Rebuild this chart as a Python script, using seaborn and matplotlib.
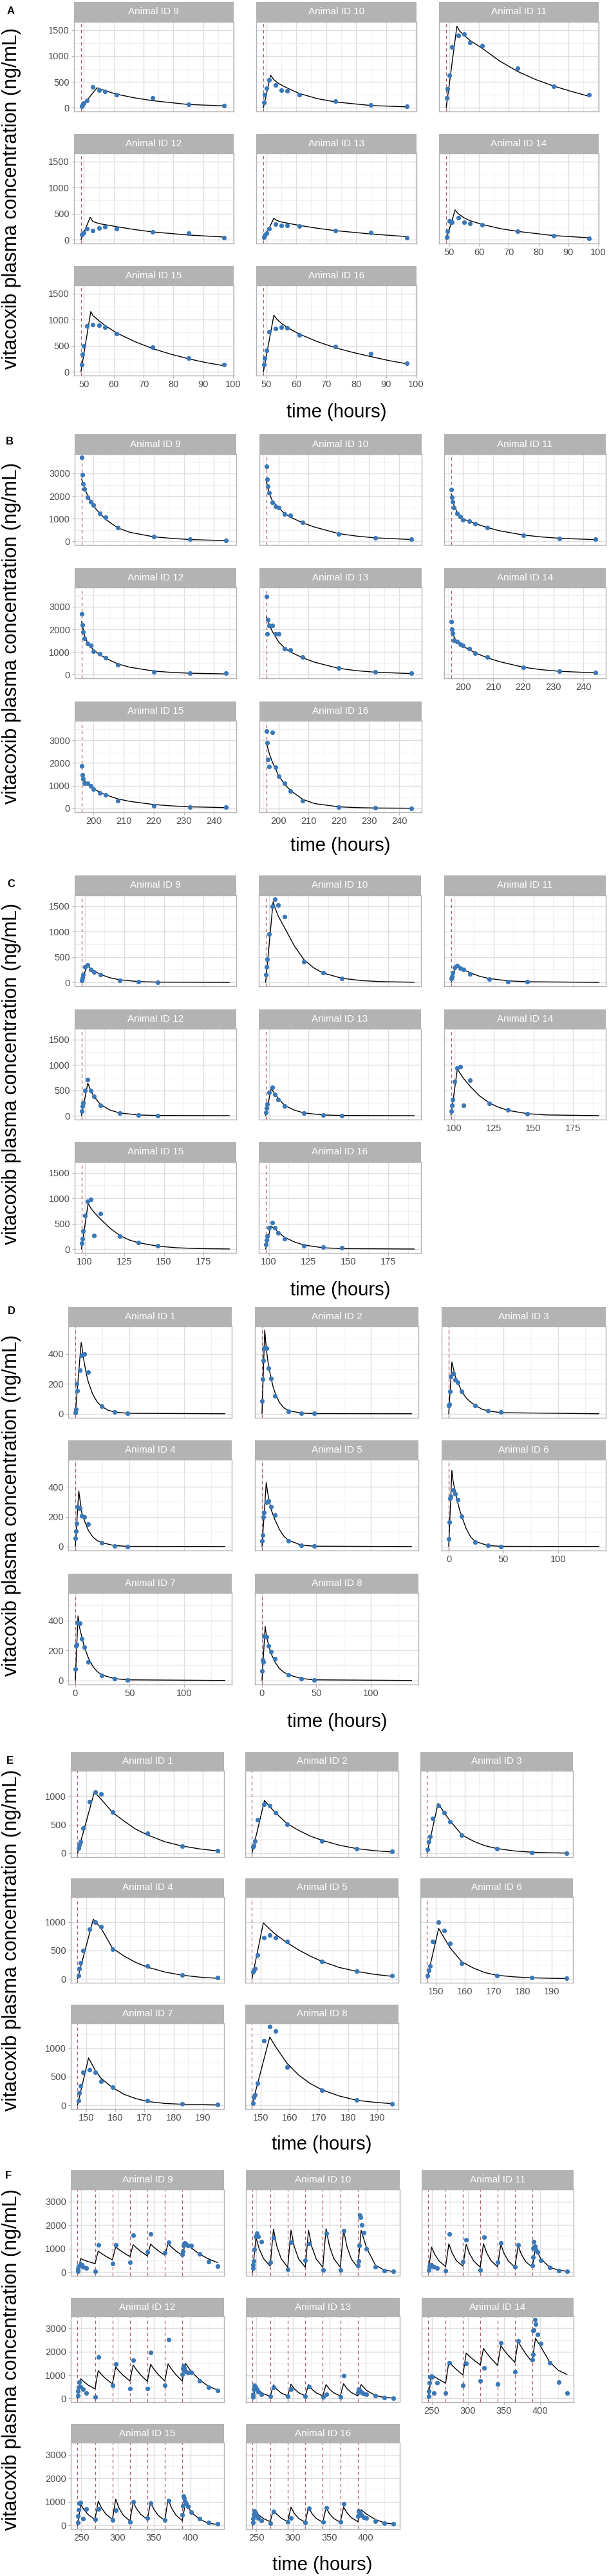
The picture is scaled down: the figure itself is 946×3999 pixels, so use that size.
import numpy as np
import pandas as pd
import matplotlib
matplotlib.use("Agg")
import matplotlib.pyplot as plt
import seaborn as sns
from matplotlib.ticker import MultipleLocator

nan = float("nan")

# ======================= DATA =======================
# ---------- Panel A ----------
A_dose = [49]
A_ids = [9, 10, 11, 12, 13, 14, 15, 16]
A_obs_t = [49.25, 49.5, 50, 51, 53, 55, 57, 61, 73, 85, 97]
a9_obs = [25, 55, 90, 145, 405, 340, 310, 255, 190, 66, 41]
a10_obs = [103, 256, 372, 533, 438, 335, 326, 256, 132, 50, 25]
a11_obs = [190, 364, 624, 1174, 1393, 1417, 1260, 1194, 764, 413, 248]
a12_obs = [100, 111, 143, 213, 176, 221, 246, 213, 152, 127, 37]
a13_obs = [49, 90, 123, 213, 303, 275, 275, 258, 176, 139, 41]
a14_obs = [57, 164, 357, 336, 418, 336, 316, 283, 160, 78, 29]
a15_obs = [136, 330, 491, 879, 900, 895, 854, 726, 475, 264, 140]
a16_obs = [136, 260, 409, 772, 825, 854, 838, 710, 487, 343, 161]
a9_fit_t = [49, 54.4, 57, 61, 67, 73, 85, 97]
a9_fit = [0, 385, 330, 260, 190, 136, 62, 36]
a10_fit_t = [49, 51.4, 52.5, 54, 57, 61, 67, 73, 85, 97]
a10_fit = [0, 625, 540, 470, 380, 275, 175, 112, 42, 17]
a11_fit_t = [49, 52.6, 53.5, 55, 57, 61, 67, 73, 79, 85, 91, 97]
a11_fit = [0, 1575, 1480, 1400, 1300, 1150, 900, 700, 545, 420, 315, 220]
a12_fit_t = [49, 52.1, 53, 55, 61, 67, 73, 85, 97]
a12_fit = [0, 430, 350, 310, 250, 195, 150, 90, 52]
a13_fit_t = [49, 52.5, 53.5, 55, 61, 67, 73, 85, 97]
a13_fit = [0, 410, 370, 340, 275, 220, 175, 110, 60]
a14_fit_t = [49, 52, 53, 55, 57, 61, 67, 73, 85, 97]
a14_fit = [0, 572, 500, 420, 365, 295, 215, 160, 80, 37]
a15_fit_t = [49, 52.3, 53, 55, 57, 61, 67, 73, 79, 85, 91, 97]
a15_fit = [0, 1155, 1080, 980, 890, 745, 580, 445, 340, 250, 175, 115]
a16_fit_t = [49, 52.5, 53.5, 55, 57, 61, 67, 73, 79, 85, 91, 97]
a16_fit = [0, 1085, 1010, 930, 850, 723, 580, 462, 370, 290, 215, 153]

# ---------- Panel B ----------
B_dose = [196]
B_ids = [9, 10, 11, 12, 13, 14, 15, 16]
B_obs_t = [196.083, 196.25, 196.5, 197, 198, 199, 200, 202, 204, 208, 220, 232, 244]
b9_obs = [3714, 2933, 2552, 2305, 1943, 1743, 1600, 1219, 1048, 590, 190, 76, 19]
b10_obs = [3314, 2743, 2429, 2152, 1714, 1543, 1495, 1210, 1143, 819, 324, 152, 76]
b11_obs = [2286, 1943, 1733, 1476, 1219, 1095, 952, 895, 781, 610, 267, 124, 76]
b12_obs = [2686, 2190, 1886, 1600, 1380, 1300, 1038, 924, 733, 419, 114, 67, 48]
b13_obs = [3457, 1810, 2429, 2171, 2171, 1810, 1810, 1133, 1086, 762, 276, 114, 57]
b14_obs = [2333, 2000, 1829, 1524, 1448, 1352, 1276, 1143, 943, 762, 314, 152, 95]
b15_obs = [1861, 1472, 1311, 1092, 1092, 997, 855, 693, 598, 342, 123, 66, 57]
b16_obs = [3400, 2906, 2165, 1852, 3352, 1804, 1425, 1102, 760, 342, 57, 19, 10]
B_fit_t = [196.0, 197, 198, 200, 202, 204, 208, 212, 220, 226, 232, 244]
b9_fit = [2750, 2350, 2020, 1550, 1230, 960, 590, 390, 190, 120, 70, 22]
b10_fit = [2650, 2100, 1780, 1480, 1230, 1060, 810, 620, 330, 220, 145, 70]
b11_fit = [2100, 1550, 1290, 990, 870, 780, 600, 460, 270, 185, 125, 65]
b12_fit = [2350, 1700, 1400, 1080, 880, 720, 470, 320, 150, 90, 55, 25]
b13_fit = [2550, 2200, 1900, 1450, 1180, 990, 740, 540, 270, 165, 100, 38]
b14_fit = [2100, 1650, 1450, 1250, 1100, 960, 740, 570, 320, 210, 140, 70]
b15_fit = [1450, 1220, 1080, 870, 710, 600, 420, 310, 170, 110, 70, 35]
b16_fit = [2880, 2400, 2030, 1450, 1075, 790, 400, 210, 70, 35, 18, 8]

# ---------- Panel C ----------
C_dose = [98]
C_ids = [9, 10, 11, 12, 13, 14, 15, 16]
C_obs_t = [98.25, 98.5, 99, 100, 102, 104, 106, 110, 122, 134, 146]
c9_obs = [34, 85, 156, 304, 346, 253, 203, 156, 34, 8, 4]
c10_obs = [148, 304, 452, 946, 1500, 1635, 1521, 1297, 401, 190, 80]
c11_obs = [72, 114, 190, 296, 330, 283, 253, 169, 63, 17, 13]
c12_obs = [85, 192, 256, 491, 714, 491, 376, 197, 56, 13, 0]
c13_obs = [64, 150, 222, 457, 556, 419, 320, 184, 51, 13, 0]
c14_obs = [85, 200, 312, 671, 940, 961, 205, 692, 239, 115, 43]
c15_obs = [114, 207, 359, 664, 938, 981, 262, 702, 258, 123, 59]
c16_obs = [93, 178, 249, 418, 524, 418, 317, 199, 68, 42, 21]
c9_fit_t = [98, 101.5, 104, 106, 110, 116, 122, 134, 146, 191.4]
c9_fit = [0, 330, 270, 225, 156, 90, 51, 15, 5, 0]
c10_fit_t = [98, 102.7, 104, 106, 110, 116, 122, 128, 134, 146, 158, 170, 191.4]
c10_fit = [0, 1585, 1460, 1300, 1070, 720, 450, 290, 185, 80, 35, 15, 2]
c11_fit_t = [98, 101.2, 104, 106, 110, 116, 122, 134, 146, 191.4]
c11_fit = [0, 317, 280, 250, 190, 120, 75, 30, 12, 0]
c12_fit_t = [98, 102, 104, 106, 110, 116, 122, 134, 146, 191.4]
c12_fit = [0, 640, 480, 370, 220, 110, 55, 14, 4, 0]
c13_fit_t = [98, 101.5, 104, 106, 110, 116, 122, 134, 146, 191.4]
c13_fit = [0, 534, 420, 340, 200, 110, 55, 14, 4, 0]
c14_fit_t = [98, 102, 104, 106, 110, 116, 122, 128, 134, 146, 158, 191.4]
c14_fit = [0, 920, 820, 730, 580, 390, 255, 165, 105, 40, 15, 1]
c15_fit_t = [98, 102.2, 104, 106, 110, 116, 122, 128, 134, 146, 158, 170, 191.4]
c15_fit = [0, 895, 800, 720, 590, 410, 270, 180, 123, 57, 25, 10, 1]
c16_fit_t = [98, 101.3, 104, 106, 110, 116, 122, 134, 146, 191.4]
c16_fit = [0, 452, 390, 330, 230, 140, 80, 25, 8, 0]

# ---------- Panel D ----------
D_dose = [0]
D_ids = [1, 2, 3, 4, 5, 6, 7, 8]
D_obs_t = [0.25, 0.5, 1, 2, 4, 6, 8, 12, 24, 36, 48]
d1_obs = [7, 30, 199, 153, 292, 390, 397, 276, 52, 10, 3]
d2_obs = [83, 232, 354, 439, 439, 304, 236, 118, 14, 3, 3]
d3_obs = [55, 62, 151, 249, 270, 227, 210, 147, 56, 19, 10]
d4_obs = [56, 101, 153, 268, 255, 207, 200, 150, 26, 4, 1]
d5_obs = [37, 75, 200, 229, 298, 308, 268, 213, 39, 6, 3]
d6_obs = [49, 164, 325, 335, 380, 354, 315, 203, 30, 6, 1]
d7_obs = [76, 229, 239, 387, 380, 280, 222, 125, 33, 10, 3]
d8_obs = [65, 136, 122, 294, 290, 229, 194, 143, 39, 10, 3]
d1_fit_t = [0, 5.4, 6, 8, 10, 12, 16, 20, 24, 30, 36, 48, 137.5]
d1_fit = [0, 476, 450, 350, 270, 210, 130, 80, 50, 24, 11.5, 3, 0]
d2_fit_t = [0, 2.5, 4, 6, 8, 10, 12, 16, 20, 24, 36, 48, 137.5]
d2_fit = [0, 558, 430, 320, 250, 185, 140, 75, 40, 22, 4, 1, 0]
d3_fit_t = [0, 2.9, 4, 6, 8, 12, 16, 20, 24, 30, 36, 48, 137.5]
d3_fit = [0, 345, 310, 250, 213, 148, 105, 78, 58, 32, 19, 7, 0]
d4_fit_t = [0, 3.2, 4, 6, 8, 12, 16, 20, 24, 36, 48, 137.5]
d4_fit = [0, 373, 330, 225, 180, 108, 65, 40, 26, 6, 1, 0]
d5_fit_t = [0, 3.9, 5, 6, 8, 10, 12, 16, 20, 24, 36, 48, 137.5]
d5_fit = [0, 429, 370, 330, 258, 215, 178, 115, 70, 43, 9, 2, 0]
d6_fit_t = [0, 2.9, 4, 6, 8, 10, 12, 16, 20, 24, 36, 48, 137.5]
d6_fit = [0, 511, 440, 365, 305, 245, 200, 120, 65, 35, 6, 1, 0]
d7_fit_t = [0, 2.5, 4, 6, 8, 12, 16, 20, 24, 36, 48, 137.5]
d7_fit = [0, 430, 350, 290, 230, 150, 95, 60, 38, 12, 4, 0]
d8_fit_t = [0, 2.9, 4, 6, 8, 12, 16, 20, 24, 36, 48, 137.5]
d8_fit = [0, 361, 300, 237, 185, 122, 80, 55, 38, 13, 4, 0]

# ---------- Panel E ----------
E_dose = [147]
E_ids = [1, 2, 3, 4, 5, 6, 7, 8]
E_obs_t = [147.25, 147.5, 148, 149, 151, 153, 155, 159, 171, 183, 195]
e1_obs = [90, 150, 207, 440, 898, 1071, 1034, 722, 350, 128, 45]
e2_obs = [113, 140, 218, 583, 853, 835, 711, 504, 218, 83, 30]
e3_obs = [64, 199, 293, 609, 835, 711, 553, 312, 75, 15, 4]
e4_obs = [56, 187, 281, 498, 869, 1000, 921, 521, 225, 71, 19]
e5_obs = [127, 150, 187, 420, 730, 768, 723, 655, 307, 139, 56]
e6_obs = [52, 142, 225, 663, 993, 850, 629, 270, 56, 19, 11]
e7_obs = [82, 221, 345, 581, 618, 581, 419, 315, 75, 22, 7]
e8_obs = [34, 131, 187, 382, 1139, 1382, 1300, 674, 258, 90, 26]
e1_fit_t = [147, 152.8, 155, 159, 163, 167, 171, 177, 183, 189, 195]
e1_fit = [0, 1071, 950, 714, 560, 420, 320, 200, 125, 75, 40]
e2_fit_t = [147, 151.3, 153, 155, 159, 163, 167, 171, 177, 183, 189, 195]
e2_fit = [0, 921, 820, 711, 519, 400, 300, 226, 140, 80, 45, 22]
e3_fit_t = [147, 150.8, 153, 155, 159, 163, 167, 171, 177, 183, 189, 195]
e3_fit = [0, 872, 700, 564, 320, 210, 130, 83, 40, 19, 8, 3]
e4_fit_t = [147, 152.4, 155, 159, 163, 167, 171, 177, 183, 189, 195]
e4_fit = [0, 1049, 900, 540, 400, 290, 206, 120, 64, 30, 10]
e5_fit_t = [147, 150.9, 153, 155, 159, 163, 167, 171, 177, 183, 189, 195]
e5_fit = [0, 985, 880, 787, 637, 510, 400, 307, 200, 131, 80, 45]
e6_fit_t = [147, 151, 153, 155, 159, 163, 167, 171, 177, 183, 189, 195]
e6_fit = [0, 888, 712, 543, 300, 190, 110, 64, 35, 19, 11, 7]
e7_fit_t = [147, 150.8, 153, 155, 159, 163, 167, 171, 177, 183, 195]
e7_fit = [0, 831, 620, 476, 307, 190, 115, 64, 30, 15, 3]
e8_fit_t = [147, 153.1, 155, 159, 163, 167, 171, 177, 183, 189, 195]
e8_fit = [0, 1199, 1037, 738, 530, 380, 270, 160, 85, 50, 26]

# ---------- Panel F ----------
F_dose = [245, 269, 293, 317, 341, 365, 389]
F_ids = [9, 10, 11, 12, 13, 14, 15, 16]
F_obs_t = [245.25, 245.75, 246.3, 247.3, 248.9, 250.5, 252.7, 257,
           269.2, 274, 293.2, 297.8, 317.3, 322, 341.3, 345.8, 365.3, 370,
           389.3, 389.9, 390.5, 391.5, 392.6, 394, 396.8, 401, 413.2, 425.5, 437.6]
f9_obs = [45, 136, 255, nan, 345, 300, 236, 173,
          45, 1164, 364, 1164, 427, 1573, 845, 1609, 818, 1273,
          745, 891, 1118, 1209, 1227, 1182, 1118, 1118, 764, 436, 255]
f10_obs = [164, 300, 482, 955, 1509, 1636, 1518, 1291,
           418, 1464, 127, 1255, 509, 1218, 82, 1636, 100, 1755,
           291, 464, 1118, 2409, 2345, 2009, 1664, 982, 236, 73, 27]
f11_obs = [82, nan, 255, 318, 300, 255, 227, 164,
           73, 1618, 455, 1382, 100, 1491, 409, 1245, 236, 1164,
           282, 645, 1027, 1282, 1100, 955, 870, 509, 191, 73, 27]
f12_obs = [110, 310, 475, 703, 502, nan, 384, 219,
           73, 1763, 548, 1470, 411, 1644, 429, 1954, 566, 2527,
           1023, 1279, 1388, 1297, 1205, 1132, 1114, 1114, 749, 475, 338]
f13_obs = [64, 183, 384, 566, 475, 384, 292, 183,
           82, 475, 91, 402, 91, 502, 64, 174, 64, 977,
           265, 384, 365, 310, 274, 247, 201, 174, 110, 46, 18]
f14_obs = [91, 310, 658, 932, 950, 932, 219, 676,
           237, 1516, 566, 1498, 767, 1315, 630, 2391, 1142, 2455,
           1662, 1890, 2909, 2936, 3364, 3182, 2736, 2345, 1516, 703, 237]
f15_obs = [128, 384, 659, 933, 979, nan, 274, 704,
           247, 704, 220, 640, 156, 1006, 311, 933, 220, 1052,
           457, 823, 1253, 1162, 1025, 933, 796, 567, 293, 110, 64]
f16_obs = [128, 274, 476, 613, 521, 384, 311, 201,
           82, 586, 146, 320, 110, 732, 146, 750, 156, 906,
           384, 613, 567, 521, 476, 430, 338, 311, 183, 91, 55]
F_fit_t = [245, 249.5, 254, 260, 269, 273.5, 278, 284, 293, 297.5, 302, 308,
           317, 321.5, 326, 332, 341, 345.5, 350, 356, 365, 369.5, 374, 380,
           389, 393.5, 401, 413, 425, 437.4]
f9_fit = [0, 573, 512, 446, 364, 891, 790, 671, 527, 1073, 960, 829,
          664, 1164, 1032, 879, 691, 1191, 1060, 908, 718, 1209, 1069, 907,
          709, 1255, 1037, 763, 562, 409]
f10_fit = [0, 1480, 986, 575, 255, 1827, 1110, 575, 209, 1782, 1083, 560,
           209, 1782, 1083, 560, 209, 1845, 1120, 580, 209, 1800, 1094, 565,
           191, 1773, 1027, 300, 91, 27]
f11_fit = [0, 1064, 751, 473, 236, 1209, 816, 485, 255, 1182, 798, 474,
           209, 1209, 816, 485, 227, 1182, 798, 474, 209, 1118, 755, 448,
           209, 1000, 573, 209, 91, 36]
f12_fit = [0, 840, 708, 565, 402, 1187, 1022, 838, 621, 1342, 1173, 981,
           749, 1434, 1227, 998, 731, 1461, 1252, 1020, 749, 1479, 1263, 1025,
           749, 1498, 1160, 795, 520, 365]
f13_fit = [0, 493, 334, 199, 91, 584, 394, 234, 110, 612, 413, 245,
           110, 594, 401, 238, 110, 594, 401, 238, 110, 630, 425, 253,
           110, 594, 338, 128, 46, 18]
f14_fit = [0, 1023, 924, 807, 658, 1571, 1417, 1235, 1005, 1936, 1806, 1648,
           1434, 2137, 1942, 1712, 1416, 2255, 2066, 1838, 1543, 2438, 2197, 1911,
           1553, 2575, 2210, 1571, 1205, 1023]
f15_fit = [0, 887, 660, 445, 247, 1025, 738, 477, 247, 1116, 735, 422,
           183, 979, 712, 466, 247, 979, 680, 417, 201, 1116, 751, 443,
           201, 979, 567, 247, 91, 37]
f16_fit = [0, 567, 421, 283, 156, 659, 473, 304, 156, 769, 508, 293,
           128, 769, 508, 293, 128, 750, 499, 290, 128, 778, 536, 327,
           156, 659, 476, 247, 110, 55]

Y_LABEL = "vitacoxib plasma concentration (ng/mL)"
X_LABEL = "time (hours)"

# ======================= BUILD TABLES =======================
def long_table(panel, ids, obs_t, obs_list, fit_t_list, fit_list):
    rows_o, rows_f = [], []
    for aid, oc, ft, fc in zip(ids, obs_list, fit_t_list, fit_list):
        rows_o.append(pd.DataFrame({"panel": panel, "id": aid, "time": obs_t, "conc": oc}))
        rows_f.append(pd.DataFrame({"panel": panel, "id": aid, "time": ft, "conc": fc}))
    return pd.concat(rows_o), pd.concat(rows_f)

tables = {
    "A": long_table("A", A_ids, A_obs_t,
                    [a9_obs, a10_obs, a11_obs, a12_obs, a13_obs, a14_obs, a15_obs, a16_obs],
                    [a9_fit_t, a10_fit_t, a11_fit_t, a12_fit_t, a13_fit_t, a14_fit_t, a15_fit_t, a16_fit_t],
                    [a9_fit, a10_fit, a11_fit, a12_fit, a13_fit, a14_fit, a15_fit, a16_fit]),
    "B": long_table("B", B_ids, B_obs_t,
                    [b9_obs, b10_obs, b11_obs, b12_obs, b13_obs, b14_obs, b15_obs, b16_obs],
                    [B_fit_t] * 8,
                    [b9_fit, b10_fit, b11_fit, b12_fit, b13_fit, b14_fit, b15_fit, b16_fit]),
    "C": long_table("C", C_ids, C_obs_t,
                    [c9_obs, c10_obs, c11_obs, c12_obs, c13_obs, c14_obs, c15_obs, c16_obs],
                    [c9_fit_t, c10_fit_t, c11_fit_t, c12_fit_t, c13_fit_t, c14_fit_t, c15_fit_t, c16_fit_t],
                    [c9_fit, c10_fit, c11_fit, c12_fit, c13_fit, c14_fit, c15_fit, c16_fit]),
    "D": long_table("D", D_ids, D_obs_t,
                    [d1_obs, d2_obs, d3_obs, d4_obs, d5_obs, d6_obs, d7_obs, d8_obs],
                    [d1_fit_t, d2_fit_t, d3_fit_t, d4_fit_t, d5_fit_t, d6_fit_t, d7_fit_t, d8_fit_t],
                    [d1_fit, d2_fit, d3_fit, d4_fit, d5_fit, d6_fit, d7_fit, d8_fit]),
    "E": long_table("E", E_ids, E_obs_t,
                    [e1_obs, e2_obs, e3_obs, e4_obs, e5_obs, e6_obs, e7_obs, e8_obs],
                    [e1_fit_t, e2_fit_t, e3_fit_t, e4_fit_t, e5_fit_t, e6_fit_t, e7_fit_t, e8_fit_t],
                    [e1_fit, e2_fit, e3_fit, e4_fit, e5_fit, e6_fit, e7_fit, e8_fit]),
    "F": long_table("F", F_ids, F_obs_t,
                    [f9_obs, f10_obs, f11_obs, f12_obs, f13_obs, f14_obs, f15_obs, f16_obs],
                    [F_fit_t] * 8,
                    [f9_fit, f10_fit, f11_fit, f12_fit, f13_fit, f14_fit, f15_fit, f16_fit]),
}
doses = {"A": A_dose, "B": B_dose, "C": C_dose, "D": D_dose, "E": E_dose, "F": F_dose}
ids = {"A": A_ids, "B": B_ids, "C": C_ids, "D": D_ids, "E": E_ids, "F": F_ids}

# ======================= LAYOUT (pixels) =======================
layout = {
    "A": dict(letter_xy=(17, 17), cols=[(114.6, 363), (398, 647), (682, 930)],
              rows=[(3, 34, 173), (208, 238, 378), (413, 443, 583)], xlab_y=640,
              xlim=(46.6, 100.2), ylim=(-72, 1657), xmaj=10, ymaj=500),
    "B": dict(letter_xy=(15, 685), cols=[(116, 367), (403, 655), (690, 941)],
              rows=[(674, 705, 846), (882, 912, 1053), (1089, 1119, 1261)], xlab_y=1313,
              xlim=(193.7, 247.4), ylim=(-171, 3857), xmaj=10, ymaj=1000),
    "C": dict(letter_xy=(17, 1373), cols=[(116, 367), (402, 654), (690, 941)],
              rows=[(1359, 1390, 1531), (1567, 1597, 1738), (1773, 1804, 1945)], xlab_y=2003,
              xlim=(93.7, 195.7), ylim=(-76, 1711), xmaj=25, ymaj=500),
    "D": dict(letter_xy=(18, 2035), cols=[(106, 360), (396, 650), (686, 941)],
              rows=[(2029, 2059, 2201), (2236, 2266, 2407), (2443, 2473, 2615)], xlab_y=2673,
              xlim=(-6.5, 143.8), ylim=(-27, 583), xmaj=50, ymaj=200),
    "E": dict(letter_xy=(15, 2733), cols=[(110, 348), (381, 619), (653, 890)],
              rows=[(2720, 2749, 2883), (2916, 2945, 3078), (3112, 3141, 3274)], xlab_y=3329,
              xlim=(144.7, 197.3), ylim=(-68, 1440), xmaj=10, ymaj=500),
    "F": dict(letter_xy=(13, 3378), cols=[(110, 348), (382, 621), (655, 891)],
              rows=[(3369, 3399, 3533), (3567, 3596, 3729), (3763, 3792, 3926)], xlab_y=3982,
              xlim=(235.8, 446.4), ylim=(-155, 3509), xmaj=50, ymaj=1000),
}

# ======================= STYLE =======================
sns.set_theme(style="white")
plt.rcParams["font.family"] = ["Liberation Sans", "DejaVu Sans"]

W, H = 946, 3999
fig = plt.figure(figsize=(W / 100, H / 100), dpi=100)
fig.patch.set_facecolor("white")

GRID_MAJ = "#DEDEDE"
GRID_MIN = "#EDEDED"
BORDER = "#B3B3B3"
STRIP = "#B3B3B3"
PT = "#3A78B8"
DOSE = "#B05A63"
TICK_TXT = "#4D4D4D"


def px_axes(x0, y0, x1, y1):
    return fig.add_axes([x0 / W, 1 - y1 / H, (x1 - x0) / W, (y1 - y0) / H])


for key in ["A", "B", "C", "D", "E", "F"]:
    L = layout[key]
    obs_df, fit_df = tables[key]
    for k, aid in enumerate(ids[key]):
        r, c = divmod(k, 3)
        x0, x1 = L["cols"][c]
        st, pt, pb = L["rows"][r]
        # strip
        sax = px_axes(x0, st, x1, pt)
        sax.set_facecolor(STRIP)
        sax.set_xticks([])
        sax.set_yticks([])
        for s in sax.spines.values():
            s.set_visible(False)
        sax.text(0.5, 0.5, f"Animal ID {aid}", color="white", ha="center", va="center",
                 fontsize=11, transform=sax.transAxes)
        # panel
        ax = px_axes(x0, pt, x1, pb)
        ax.set_facecolor("white")
        for d in doses[key]:
            ax.axvline(d, color=DOSE, lw=0.9, ls=(0, (4, 3.5)), zorder=1)
        sub_f = fit_df[fit_df["id"] == aid]
        sns.lineplot(data=sub_f, x="time", y="conc", ax=ax, color="black", linewidth=1.0,
                     estimator=None, zorder=2)
        sub_o = obs_df[obs_df["id"] == aid]
        sns.scatterplot(data=sub_o, x="time", y="conc", ax=ax, color=PT, s=27,
                        linewidth=0, zorder=3)
        ax.set_xlim(*L["xlim"])
        ax.set_ylim(*L["ylim"])
        ax.xaxis.set_major_locator(MultipleLocator(L["xmaj"]))
        ax.xaxis.set_minor_locator(MultipleLocator(L["xmaj"] / 2))
        ax.yaxis.set_major_locator(MultipleLocator(L["ymaj"]))
        ax.yaxis.set_minor_locator(MultipleLocator(L["ymaj"] / 2))
        ax.grid(which="major", color=GRID_MAJ, lw=1.0)
        ax.grid(which="minor", color=GRID_MIN, lw=0.6)
        ax.set_axisbelow(True)
        for s in ax.spines.values():
            s.set_color(BORDER)
            s.set_linewidth(1.0)
        ax.set_xlabel("")
        ax.set_ylabel("")
        show_x = (r == 2) or (r == 1 and c == 2)
        show_y = (c == 0)
        ax.tick_params(axis="x", which="major", length=3 if show_x else 0, width=0.8,
                       color=BORDER, labelsize=10.5, labelcolor=TICK_TXT,
                       labelbottom=show_x, pad=2, bottom=True)
        ax.tick_params(axis="y", which="major", length=3 if show_y else 0, width=0.8,
                       color=BORDER, labelsize=10.5, labelcolor=TICK_TXT,
                       labelleft=show_y, pad=2, left=True)
        ax.tick_params(which="minor", length=0)
    # panel texts
    top = L["rows"][0][0]
    bot = L["rows"][2][2]
    yc = (top + bot) / 2 + 15
    fig.text(18 / W, 1 - yc / H, Y_LABEL, rotation=90, ha="center", va="center",
             fontsize=22, color="black")
    xc = (L["cols"][0][0] + L["cols"][2][1]) / 2
    fig.text(xc / W, 1 - L["xlab_y"] / H, X_LABEL, ha="center", va="center",
             fontsize=21, color="black")
    lx, ly = L["letter_xy"]
    fig.text(lx / W, 1 - ly / H, key, ha="center", va="center", fontsize=12,
             fontweight="bold", color="black")

fig.savefig("out.png", dpi=100, facecolor="white")
